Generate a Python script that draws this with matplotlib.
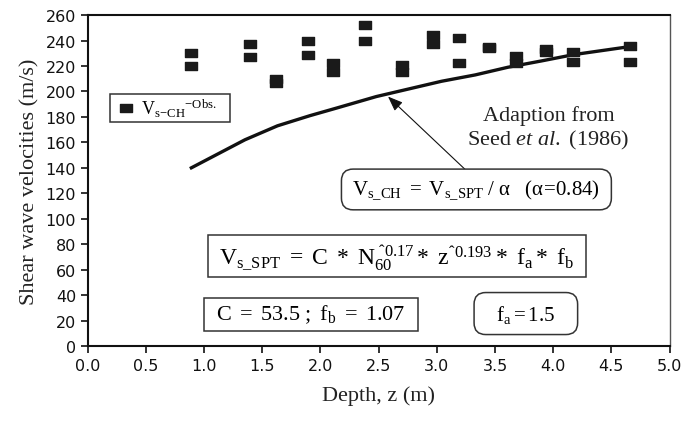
import numpy as np
import matplotlib
matplotlib.use("Agg")
import matplotlib.pyplot as plt
from matplotlib.path import Path
from matplotlib.patches import FancyBboxPatch

depth_obs = [0.89, 0.89, 1.39, 1.39, 1.62, 1.62, 1.89, 1.89, 2.11, 2.11,
             2.38, 2.38, 2.70, 2.70, 2.97, 2.97, 3.19, 3.19, 3.45, 3.45,
             3.68, 3.68, 3.94, 3.94, 4.17, 4.17, 4.66, 4.66]
vs_obs = [230, 220, 237, 227, 210, 207, 240, 229, 222, 215,
          252, 240, 221, 215, 244, 237, 242, 222, 235, 234,
          228, 222, 233, 231, 231, 223, 236, 223]

# adapted Seed et al. (1986) curve
depth_fit = [0.89, 1.35, 1.63, 1.91, 2.14, 2.48, 2.76, 3.04, 3.33, 3.61, 3.90, 4.18, 4.64]
vs_fit = [140, 162, 173, 181, 187, 196, 202, 208, 213, 219, 224, 229, 235]

x_ticks = np.arange(0, 5.01, 0.5)
y_ticks = np.arange(0, 261, 20)

plt.rcParams['mathtext.fontset'] = 'custom'
plt.rcParams['mathtext.rm'] = 'Liberation Serif'
plt.rcParams['mathtext.it'] = 'Liberation Serif:italic'

fig = plt.figure(figsize=(6.86, 4.35), dpi=100)
ax = fig.add_axes([0.128, 0.2023, 0.848, 0.7607])

rect = Path([(-1.5, -1), (1.5, -1), (1.5, 1), (-1.5, 1), (-1.5, -1)],
            [Path.MOVETO, Path.LINETO, Path.LINETO, Path.LINETO, Path.CLOSEPOLY])

ax.plot(depth_fit, vs_fit, color="#111111", lw=2.4, zorder=2)
ax.plot(depth_obs, vs_obs, ls="none", marker=rect, ms=8.8, color="#1a1a1a", zorder=3)

ax.set_xlim(0, 5)
ax.set_ylim(0, 260)
ax.set_xticks(x_ticks)
ax.set_yticks(y_ticks)
ax.set_xticklabels(["%.1f" % v for v in x_ticks])
ax.tick_params(direction="out", length=5, width=1.2, labelsize=11.5, colors="#111111")
for lab in ax.get_xticklabels() + ax.get_yticklabels():
    lab.set_family("DejaVu Sans")
for s in ["left", "bottom", "top"]:
    ax.spines[s].set_linewidth(1.5)
    ax.spines[s].set_color("#111111")
ax.spines["right"].set_linewidth(1.0)
ax.spines["right"].set_color("#555555")

ax.set_xlabel("Depth, z (m)", family="Liberation Serif", fontsize=16, color="#222222", labelpad=9)
ax.set_ylabel("Shear wave velocities (m/s)", family="Liberation Serif", fontsize=16, color="#222222")

# px -> data aspect, so rounded corners look round
asp = (260 / (0.7607 * 435)) / (5 / (0.848 * 686))


def box(x0, x1, y0, y1, rounded=False):
    style = "round,pad=0,rounding_size=0.1" if rounded else "square,pad=0"
    p = FancyBboxPatch((x0, y0), x1 - x0, y1 - y0, boxstyle=style, mutation_aspect=asp,
                       fc="white", ec="#333333", lw=1.1, zorder=4)
    ax.add_patch(p)


# legend
box(0.19, 1.22, 176, 198)
ax.plot([0.33], [187], ls="none", marker=rect, ms=8.8, color="#1a1a1a", zorder=5)
ax.text(0.46, 187, r"V$_{\rm s\!-\!CH}$$^{-\rm Obs.}$", family="Liberation Serif",
        fontsize=13, va="center", ha="left", zorder=5)

# annotations
ax.text(3.96, 171, "Adaption from\nSeed $\\it{et\\ al.}$ (1986)", family="Liberation Serif",
        fontsize=16, ha="center", va="center", linespacing=1.2, color="#222222")

box(2.18, 4.50, 107, 139, rounded=True)
ax.annotate("", xy=(2.58, 196), xytext=(3.24, 139),
            arrowprops=dict(arrowstyle="-|>,head_length=0.9,head_width=0.35",
                            color="#111111", lw=0.8, shrinkA=0, shrinkB=0))
ax.text(3.34, 123, r"$\mathrm{V_{s\_CH}\ =\ V_{s\_SPT}\ /\ \alpha\ \ \ (\alpha\!=\!0.84)}$",
        fontsize=15, ha="center", va="center", zorder=5)

box(1.03, 4.28, 54, 87)
ax.text(2.655, 70, r"$\mathrm{V_{s\_SPT}\ =\ C\ *\ N_{60}^{\ ˆ0.17}*\ z^{ˆ0.193}*\ f_a*\ f_b}$",
        fontsize=17, ha="center", va="center", zorder=5)

box(1.0, 2.84, 12, 38)
ax.text(1.92, 25, r"$\mathrm{C\ =\ 53.5\ ;\ f_b\ =\ 1.07}$",
        fontsize=16, ha="center", va="center", zorder=5)

box(3.32, 4.21, 9, 42, rounded=True)
ax.text(3.765, 25.5, r"$\mathrm{f_a = 1.5}$",
        fontsize=15, ha="center", va="center", zorder=5)

fig.savefig("out.png", dpi=100)
